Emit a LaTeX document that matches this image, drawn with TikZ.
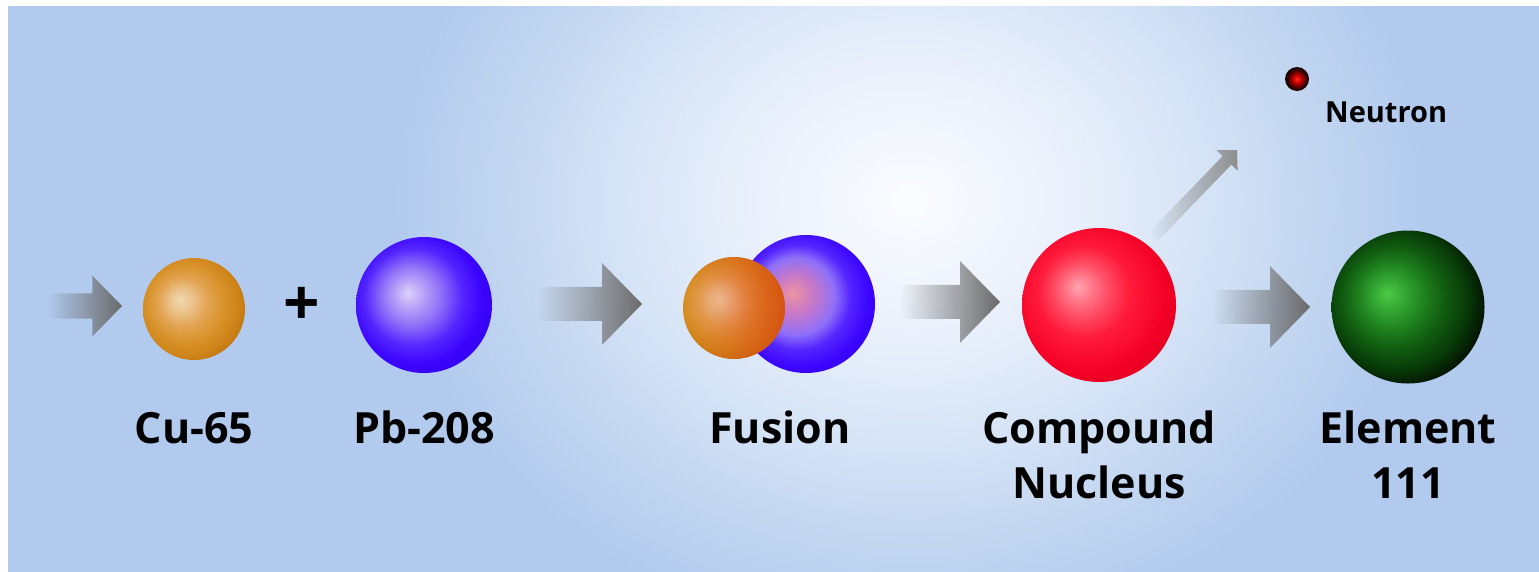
\documentclass[tikz,border=0pt]{standalone}
\usepackage{fontspec}
\setmainfont{Open Sans}
\usetikzlibrary{positioning,calc,fadings}

\definecolor{bgblue}{HTML}{B1CAEE}
\definecolor{arrowgray}{HTML}{6A6A6A}
\definecolor{ejectgray}{HTML}{8E8E8E}
\definecolor{rimred}{HTML}{E03A10}

\definecolor{glowA}{HTML}{FAFCFF}
\definecolor{glowB}{HTML}{EEF3FC}
\definecolor{glowC}{HTML}{D9E6F7}
\definecolor{glowD}{HTML}{C1D5F0}

\definecolor{cuA}{HTML}{F0D8B0}
\definecolor{cuA2}{HTML}{EAC088}
\definecolor{cuB}{HTML}{E2A452}
\definecolor{cuC}{HTML}{D8922A}
\definecolor{cuD}{HTML}{CE8418}
\definecolor{cuE}{HTML}{BE7410}

\definecolor{pbA}{HTML}{DCD2F8}
\definecolor{pbA2}{HTML}{B8A4F8}
\definecolor{pbB}{HTML}{8E70F8}
\definecolor{pbC}{HTML}{5426FF}
\definecolor{pbD}{HTML}{3C05FF}
\definecolor{pbE}{HTML}{3200EC}
\definecolor{pbPink}{HTML}{EC94A0}
\definecolor{pbPinkB}{HTML}{C878C8}

\definecolor{rdA}{HTML}{FFA6B2}
\definecolor{rdA2}{HTML}{FF7A8C}
\definecolor{rdB}{HTML}{FF4A62}
\definecolor{rdC}{HTML}{FF1A3A}
\definecolor{rdD}{HTML}{F40026}
\definecolor{rdE}{HTML}{DC001E}

\definecolor{grA}{HTML}{4CCB44}
\definecolor{grB}{HTML}{34A834}
\definecolor{grC}{HTML}{1E801E}
\definecolor{grD}{HTML}{105A10}
\definecolor{grE}{HTML}{083A08}
\definecolor{grF}{HTML}{031603}

\definecolor{nA}{HTML}{FF2A2A}
\definecolor{nB}{HTML}{D00000}
\definecolor{nC}{HTML}{700000}
\definecolor{nD}{HTML}{200000}

% the path fills the middle 50bp of each shading, so its rim sits at 25bp
\pgfdeclareradialshading{glow}{\pgfpointorigin}{color(0bp)=(glowA); color(6bp)=(glowB);
  color(13bp)=(glowC); color(20bp)=(glowD); color(25bp)=(bgblue); color(50bp)=(bgblue)}
\pgfdeclareradialshading{cuball}{\pgfpoint{-7bp}{4.5bp}}{color(0bp)=(cuA); color(6bp)=(cuA2);
  color(12bp)=(cuB); color(19bp)=(cuC); color(25bp)=(cuD); color(30bp)=(cuE); color(50bp)=(cuE)}
\pgfdeclareradialshading{pbball}{\pgfpoint{-6bp}{4.5bp}}{color(0bp)=(pbA); color(5bp)=(pbA2);
  color(11bp)=(pbB); color(18bp)=(pbC); color(24bp)=(pbD); color(30bp)=(pbE); color(50bp)=(pbE)}
\pgfdeclareradialshading{fusedpb}{\pgfpoint{-5bp}{4bp}}{color(0bp)=(pbPink); color(7bp)=(pbPinkB);
  color(14bp)=(pbB); color(19bp)=(pbC); color(25bp)=(pbD); color(30bp)=(pbE); color(50bp)=(pbE)}
\pgfdeclareradialshading{redball}{\pgfpoint{-7bp}{6bp}}{color(0bp)=(rdA); color(4bp)=(rdA2);
  color(9bp)=(rdB); color(15bp)=(rdC); color(25bp)=(rdD); color(31bp)=(rdE); color(50bp)=(rdE)}
\pgfdeclareradialshading{greenball}{\pgfpoint{-7bp}{4.5bp}}{color(0bp)=(grA); color(5bp)=(grB);
  color(11bp)=(grC); color(17bp)=(grD); color(23bp)=(grE); color(28bp)=(grF); color(50bp)=(grF)}
\pgfdeclareradialshading{neutronball}{\pgfpointorigin}{color(0bp)=(nA); color(7.5bp)=(nB);
  color(15bp)=(nC); color(21bp)=(nD); color(50bp)=(nD)}

\tikzfading[name=tailfade, left color=transparent!100, middle color=transparent!0, right color=transparent!0]
\tikzfading[name=rimfade, left color=transparent!100, middle color=transparent!100, right color=transparent!40]

% fat arrow from tail to tip, #4 scales shaft and head
\newcommand\flowarrow[4][]{%
  \path let \p1=(#2), \p2=(#3) in
    \pgfextra{\pgfmathsetmacro\arrang{atan2(\y2-\y1,\x2-\x1)}%
              \pgfmathsetmacro\arrlen{veclen(\x2-\x1,\y2-\y1)}%
              \global\let\arrang\arrang \global\let\arrlen\arrlen};
  \begin{scope}[shift={(#2)}, rotate=\arrang]
    \fill[arrowbody, #1] (0pt,-17pt*#4) -- (\arrlen pt-40pt*#4,-17pt*#4) -- (\arrlen pt-40pt*#4,-41pt*#4)
      -- (\arrlen pt,0pt) -- (\arrlen pt-40pt*#4,41pt*#4) -- (\arrlen pt-40pt*#4,17pt*#4) -- (0pt,17pt*#4) -- cycle;
  \end{scope}}

\begin{document}
\begin{tikzpicture}[x=1pt, y=-1pt,
  nucleus/.style={circle, inner sep=0pt, minimum size=#1, shade},
  lbl/.style={font=\fontsize{43}{55}\selectfont\bfseries, align=center, anchor=base, inner sep=0pt},
  arrowbody/.style={fill=arrowgray, path fading=tailfade}
]
\useasboundingbox (0,0) rectangle (1539,571);
\fill[white] (0,0) rectangle (1539,571);
\fill[bgblue] (8,6) rectangle (1541,574);
\begin{scope}
  \clip (8,6) rectangle (1541,574);
  \shade[shading=glow] (910,200) ellipse [x radius=520pt, y radius=440pt];
\end{scope}

% nuclei
\node[nucleus=102pt, shading=cuball] (cu) at (194,309) {};
\node[font=\fontsize{64}{64}\selectfont\bfseries, inner sep=0pt] (plus) at (302,306) {+};
\node[nucleus=136pt, shading=pbball] (pb) at (424,305) {};
\node[nucleus=138pt, shading=fusedpb] (fusepb) at (806,304) {};
\node[nucleus=102pt, shading=cuball] (fusecu) at (734,308) {};
\fill[rimred, path fading=rimfade] (fusecu.center) circle [radius=51pt];
\node[nucleus=154pt, shading=redball] (compound) at (1099,305) {};
\node[nucleus=153pt, shading=greenball] (element) at (1408,307) {};
\node[nucleus=24pt, shading=neutronball] (neutron) at (1297,79) {};

% arrows
\coordinate (inTail) at (48,306);    \coordinate (inTip) at (122,306);
\coordinate (fuseTail) at (537,304); \coordinate (fuseTip) at (642,304);
\coordinate (compTail) at (900,302); \coordinate (compTip) at (1000,302);
\coordinate (elemTail) at (1213,307); \coordinate (elemTip) at (1310,307);
\coordinate (ejectTail) at (1153,237); \coordinate (ejectTip) at (1237,150);
\flowarrow{inTail}{inTip}{0.74}
\flowarrow{fuseTail}{fuseTip}{1}
\flowarrow{compTail}{compTip}{1}
\flowarrow{elemTail}{elemTip}{1}
\flowarrow[fill=ejectgray]{ejectTail}{ejectTip}{0.36}

% names (two-line ones sit on their last baseline)
\coordinate (base) at (0,443);
\coordinate (base2) at (0,498);
\node[lbl] (cuName) at (cu |- base) {Cu-65};
\node[lbl] (pbName) at (pb |- base) {Pb-208};
\node[lbl] (fusionName) at (780,443) {Fusion};
\node[lbl] (compoundName) at (compound |- base2) {Compound\\Nucleus};
\node[lbl] (elementName) at (element |- base2) {Element\\111};
\node[font=\fontsize{29}{34}\selectfont\bfseries, anchor=base west, inner sep=0pt] (neutronName) at (1325,122) {Neutron};
\end{tikzpicture}
\end{document}
